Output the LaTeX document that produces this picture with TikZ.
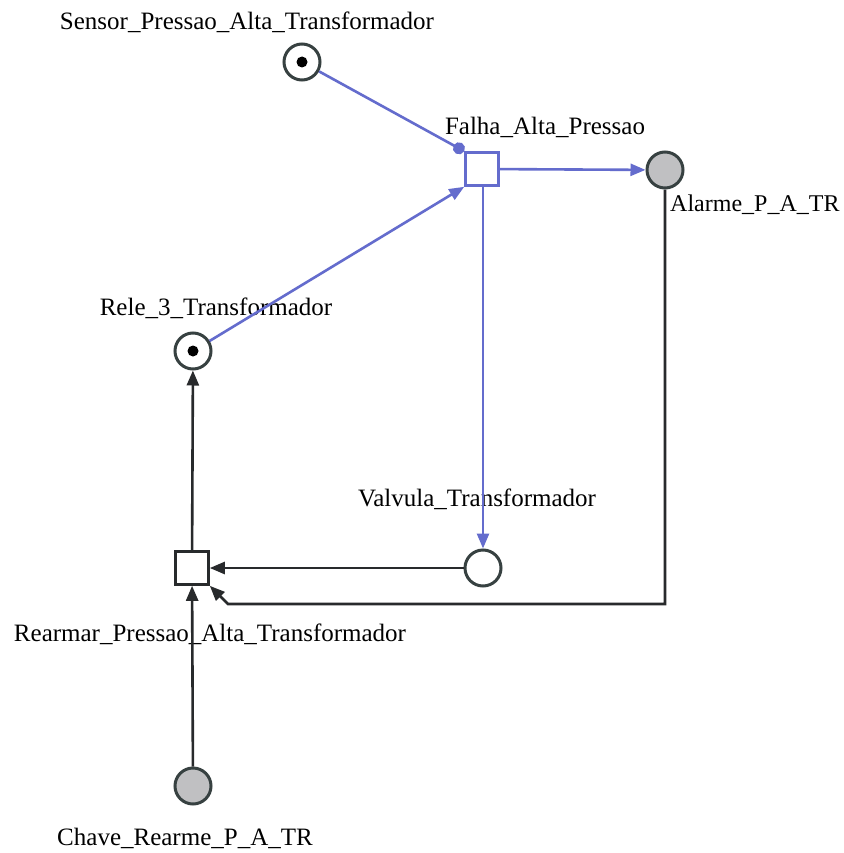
\documentclass[tikz,border=0pt]{standalone}
\usepackage{fontspec}
\setmainfont{Liberation Serif}
\usetikzlibrary{arrows.meta}
\definecolor{arcblue}{RGB}{100,108,205}
\definecolor{arcdark}{RGB}{40,42,44}
\definecolor{placeline}{RGB}{55,65,65}
\definecolor{placefill}{RGB}{192,192,194}
\tikzset{
  place/.style={circle,draw=placeline,line width=3pt,minimum size=36pt,inner sep=0pt,fill=white},
  markedplace/.style={place,fill=placefill},
  trans/.style={rectangle,draw=#1,line width=2.6pt,minimum size=33pt,inner sep=0pt,fill=white},
  lbl/.style={font=\fontsize{25}{30}\selectfont,text=black,inner sep=0pt},
  bluearc/.style={draw=arcblue,line width=2.6pt,-{Triangle[length=15pt,width=12pt]}},
  darkarc/.style={draw=arcdark,line width=2.6pt,-{Triangle[length=15pt,width=12pt]}},
  readarc/.style={draw=arcblue,line width=2.6pt,-{Circle[length=12pt]}},
  token/.style={circle,fill=black,minimum size=11pt,inner sep=0pt}
}
\begin{document}
\begin{tikzpicture}[x=1pt,y=-1pt]
\useasboundingbox (0,0) rectangle (843,853);
\fill[white] (0,0) rectangle (843,853);

% places
\node[place] (sensor) at (302,62) {};
\node[token] (sensortok) at (302,62) {};
\node[place] (rele) at (193,351) {};
\node[token] (reletok) at (193,351) {};
\node[markedplace] (alarme) at (665,170) {};
\node[place] (valvula) at (483,568) {};
\node[markedplace] (chave) at (193,786) {};

% transitions
\node[trans=arcblue] (falha) at (482,169) {};
\node[trans=arcdark] (rearmar) at (192,568) {};

% labels
\node[lbl] (sensorlbl) at (247,22) {Sensor\_Pressao\_Alta\_Transformador};
\node[lbl] (falhalbl) at (545,127) {Falha\_Alta\_Pressao};
\node[lbl,anchor=west,font=\fontsize{24}{29}\selectfont] (alarmelbl) at (670,205) {Alarme\_P\_A\_TR};
\node[lbl] (relelbl) at (216,308) {Rele\_3\_Transformador};
\node[lbl] (valvulalbl) at (477,499) {Valvula\_Transformador};
\node[lbl] (rearmarlbl) at (210,634) {Rearmar\_Pressao\_Alta\_Transformador};
\node[lbl] (chavelbl) at (185,838) {Chave\_Rearme\_P\_A\_TR};

% arcs of the blue transition
\draw[readarc] (sensor) -- (falha.north west);
\draw[bluearc] (rele) -- (falha.south west);
\draw[bluearc] (falha) -- (alarme);
\draw[bluearc] (falha.south) ++(1,0) coordinate (fdown) -- (fdown |- valvula.north);

% arcs of the reset transition
\draw[darkarc] (valvula) -- (rearmar);
\draw[darkarc] (chave) -- (rearmar);
\draw[darkarc] (rearmar) -- (rele);
\coordinate (bendA) at (665,604);
\coordinate (bendB) at (228,604);
\draw[darkarc] (alarme) -- (bendA) -- (bendB) -- (rearmar.south east);
\end{tikzpicture}
\end{document}
